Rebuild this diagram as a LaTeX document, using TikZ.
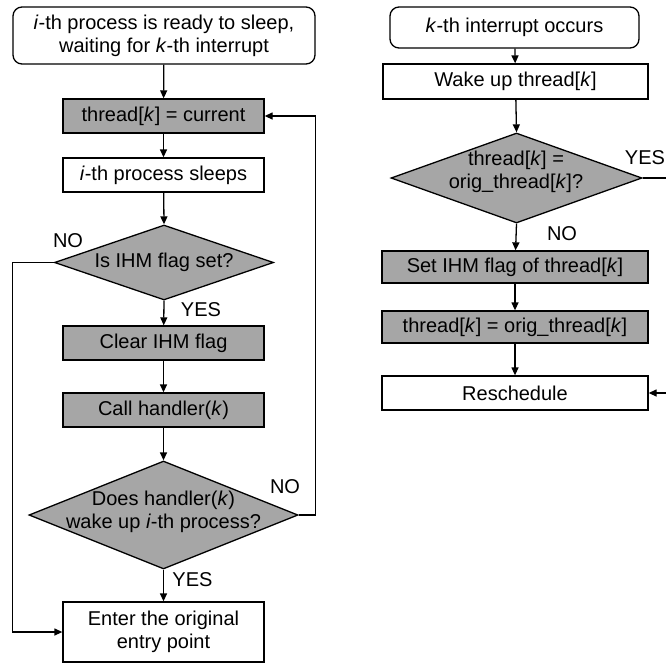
\documentclass[tikz,border=0pt]{standalone}
\usepackage{fontspec}
\setmainfont{Liberation Sans}
\usetikzlibrary{arrows.meta,shapes.geometric}
\definecolor{boxgray}{RGB}{166,166,166}
\tikzset{
  every node/.style={font=\fontsize{20}{23}\selectfont},
  plainbox/.style={draw, line width=1.3pt, rectangle, inner sep=0pt, align=center},
  graybox/.style={plainbox, fill=boxgray},
  startbox/.style={plainbox, rounded corners=9pt},
  decision/.style={draw, line width=1.3pt, diamond, fill=boxgray, inner sep=0pt},
  flow/.style={line width=1.3pt, -{Triangle[length=8pt,width=7pt]}},
  lbl/.style={inner sep=0pt}
}
\newcommand{\ik}{\textit{k}}
\newcommand{\ii}{\textit{i}}
\begin{document}
\begin{tikzpicture}[x=1pt,y=-1pt]
\useasboundingbox (0,0) rectangle (666,665);
\clip (0,0) rectangle (666,665);

% left column: the sleeping process
\node[startbox, minimum width=302pt, minimum height=57pt] (start) at (164,35.5)
  {\ii-th process is ready to sleep,\\waiting for \ik-th interrupt};
\node[graybox, minimum width=201pt, minimum height=34pt] (cur) at (163.5,116)
  {thread[\ik] = current};
\node[plainbox, minimum width=201pt, minimum height=34pt] (sleeps) at (163.5,175)
  {\ii-th process sleeps};
\node[decision, minimum width=219pt, minimum height=75pt] (d1) at (164,262.5) {};
\node[lbl] (d1t) at (164,262) {Is IHM flag set?};
\node[graybox, minimum width=201pt, minimum height=34pt] (clear) at (163.5,343)
  {Clear IHM flag};
\node[graybox, minimum width=201pt, minimum height=34pt] (call) at (163.5,410)
  {Call handler(\ik)};
\node[decision, minimum width=269pt, minimum height=108pt] (d2) at (163.5,515) {};
\node[lbl, align=center] (d2t) at (163.5,512) {Does handler(\ik)\\wake up \ii-th process?};
\node[plainbox, minimum width=201pt, minimum height=60pt] (enter) at (163.5,632)
  {Enter the original\\entry point};

\draw[flow] (start) -- (cur);
\draw[flow] (cur) -- (sleeps);
\draw[flow] (sleeps) -- (d1.north);
\draw[flow] (d1.south) -- (clear);
\draw[flow] (clear) -- (call);
\draw[flow] (call) -- (d2.north);
\draw[flow] (d2.south) -- (enter);
\draw[flow] (d1.west) -- ++(-41.5,0) |- (enter.west);
\draw[flow] (d2.east) -- ++(17,0) |- (cur.east);

\node[lbl] (no1) at (68,241) {NO};
\node[lbl] (yes1) at (201,310) {YES};
\node[lbl] (no2) at (285,487) {NO};
\node[lbl] (yes2) at (192.5,579.5) {YES};

% right column: the interrupt path
\node[startbox, minimum width=249pt, minimum height=41pt] (intr) at (514.5,27.5)
  {\ik-th interrupt occurs};
\node[plainbox, minimum width=265pt, minimum height=35pt] (wake) at (515.5,81.5)
  {Wake up thread[\ik]};
\node[decision, minimum width=251pt, minimum height=90pt] (d3) at (516.5,178) {};
\node[lbl, align=center] (d3t) at (516,172) {thread[\ik] =\\orig\_thread[\ik]?};
\node[graybox, minimum width=266pt, minimum height=32pt] (setf) at (515,267)
  {Set IHM flag of thread[\ik]};
\node[graybox, minimum width=266pt, minimum height=32pt] (orig) at (515,327)
  {thread[\ik] = orig\_thread[\ik]};
\node[plainbox, minimum width=266pt, minimum height=34pt] (resched) at (515,393)
  {Reschedule};

\draw[flow] (intr) -- (wake);
\draw[flow] (wake) -- (d3.north);
\draw[flow] (d3.south) -- (setf);
\draw[flow] (setf) -- (orig);
\draw[flow] (orig) -- (resched);
\coordinate (rturn) at (700,178);
\draw[flow] (d3.east) -- (rturn) |- (resched.east);

\node[lbl] (yes3) at (645,158) {YES};
\node[lbl] (no3) at (562,233.5) {NO};
\end{tikzpicture}
\end{document}
